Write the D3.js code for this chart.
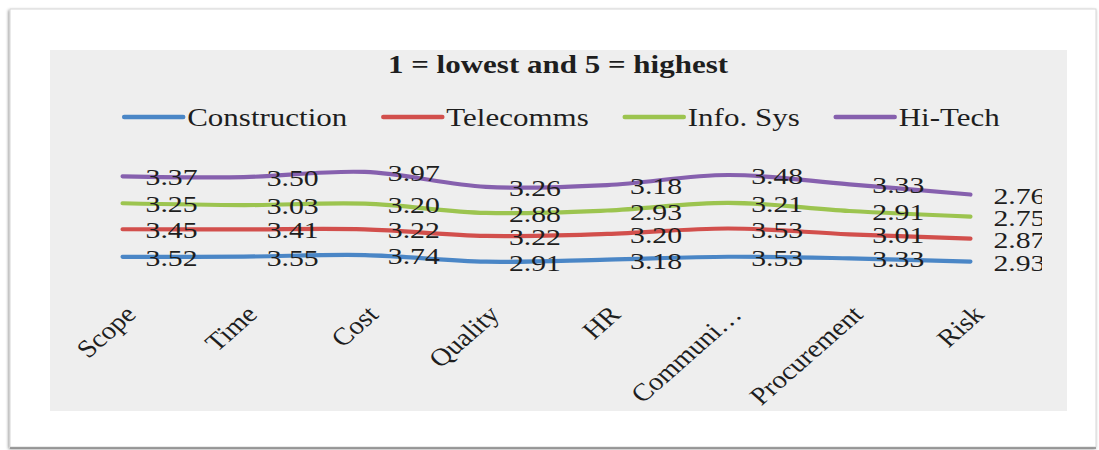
<!DOCTYPE html>
<html>
<head>
<meta charset="utf-8">
<script src="https://cdn.jsdelivr.net/npm/d3@7"></script>
<style>
  html, body { margin: 0; padding: 0; background: #ffffff; }
  svg { display: block; }
  text { font-family: "Liberation Serif", "Times New Roman", serif; fill: #1e1e1e; }
</style>
</head>
<body>
<script>
// Ratings per knowledge area (1 = lowest, 5 = highest), plotted as stacked lines
const categories = ["Scope", "Time", "Cost", "Quality", "HR", "Communi\u2026", "Procurement", "Risk"];
const seriesNames = ["Construction", "Telecomms", "Info. Sys", "Hi-Tech"];
const construction = [3.52, 3.55, 3.74, 2.91, 3.18, 3.53, 3.33, 2.93];
const telecomms    = [3.45, 3.41, 3.22, 3.22, 3.20, 3.53, 3.01, 2.87];
const infoSys      = [3.25, 3.03, 3.20, 2.88, 2.93, 3.21, 2.91, 2.75];
const hiTech       = [3.37, 3.50, 3.97, 3.26, 3.18, 3.48, 3.33, 2.76];
const seriesColors = ["#4a86c6", "#d24f4c", "#9cc44f", "#8660ae"];
const titleText = "1 = lowest and 5 = highest";

const W = 1099, H = 450;
const SX = 1.24; // horizontal stretch of the serif lettering

const svg = d3.select("body").append("svg").attr("width", W).attr("height", H);
const defs = svg.append("defs");

const shadow = defs.append("filter").attr("id", "pageShadow")
  .attr("x", "-5%").attr("y", "-5%").attr("width", "110%").attr("height", "110%");
shadow.append("feDropShadow").attr("dx", -1).attr("dy", 1.5)
  .attr("stdDeviation", 1.6).attr("flood-color", "#000").attr("flood-opacity", 0.45);

const axisShadow = defs.append("filter").attr("id", "axisShadow")
  .attr("x", "-2%").attr("y", "-200%").attr("width", "104%").attr("height", "500%");
axisShadow.append("feDropShadow").attr("dx", 0).attr("dy", 1.2)
  .attr("stdDeviation", 0.8).attr("flood-color", "#000").attr("flood-opacity", 0.3);

// page frame
svg.append("rect").attr("x", 10).attr("y", 9).attr("width", 1086).attr("height", 438)
  .attr("fill", "#ffffff").attr("stroke", "#d6d6d6").attr("stroke-width", 1)
  .attr("filter", "url(#pageShadow)");
svg.append("line").attr("x1", 10).attr("x2", 1096).attr("y1", 448).attr("y2", 448)
  .attr("stroke", "#8a8a8a").attr("stroke-width", 1.6);

// chart area
const area = { x: 50, y: 50, w: 1017, h: 361 };
svg.append("rect").attr("x", area.x).attr("y", area.y).attr("width", area.w).attr("height", area.h)
  .attr("fill", "#eeeeee");

// the plot region ends a little before the chart area's right edge
defs.append("clipPath").attr("id", "plotClip").append("rect")
  .attr("x", area.x).attr("y", area.y).attr("width", 1042 - area.x).attr("height", area.h);

const g = svg.append("g").attr("clip-path", "url(#plotClip)");

// scales
const axisY = 285;
const x = d3.scaleBand().domain(categories).range([62, 1031]).padding(0);
const y = d3.scaleLinear().domain([0, 15]).range([axisY, axisY - 120]);
const cx = c => x(c) + x.bandwidth() / 2;

// stacked cumulative values
const raw = [construction, telecomms, infoSys, hiTech];
const rows = categories.map((c, i) => {
  const r = { cat: c };
  seriesNames.forEach((s, k) => { r[s] = raw[k][i]; });
  return r;
});
const stacked = d3.stack().keys(seriesNames)(rows);

// title
svg.append("text").attr("transform", `translate(558,73) scale(${SX},1)`)
  .attr("text-anchor", "middle").attr("font-size", 25).attr("font-weight", "bold")
  .text(titleText);

// legend
const legend = svg.append("g");
let lx = 0;
seriesNames.forEach((s, k) => {
  const it = legend.append("g").attr("transform", `translate(${lx},0)`);
  it.append("line").attr("x1", 0).attr("x2", 59).attr("y1", 117).attr("y2", 117)
    .attr("stroke", seriesColors[k]).attr("stroke-width", 4.5).attr("stroke-linecap", "round");
  const t = it.append("text").attr("transform", `translate(63,126) scale(${SX},1)`)
    .attr("font-size", 25).text(s);
  const tw = t.node().getComputedTextLength() * SX;
  lx += 63 + tw + 36;
});
const legendW = lx - 36;
legend.attr("transform", `translate(${562 - legendW / 2},0)`);

// x axis
const xAxis = d3.axisBottom(x).tickSize(0).tickSizeOuter(0);
const ax = svg.append("g").attr("transform", `translate(0,${axisY})`).call(xAxis);
ax.select(".domain").attr("stroke", "#8e8e8e").attr("stroke-width", 1.6)
  .attr("filter", "url(#axisShadow)");
ax.selectAll(".tick text")
  .attr("x", null).attr("y", null).attr("dy", null)
  .attr("text-anchor", "end")
  .attr("font-family", "Liberation Serif, Times New Roman, serif")
  .attr("font-size", 25).attr("fill", "#1e1e1e")
  .attr("transform", `translate(15,31) scale(${SX * 0.92},1) rotate(-45)`);

// lines
const line = d3.line()
  .x(d => cx(d.data.cat))
  .y(d => y(d[1]))
  .curve(d3.curveCatmullRom.alpha(0.5));

g.selectAll("path.series").data(stacked).join("path")
  .attr("class", "series")
  .attr("d", d => line(d))
  .attr("fill", "none")
  .attr("stroke", (d, i) => seriesColors[i])
  .attr("stroke-width", 4.2)
  .attr("stroke-linecap", "round")
  .attr("stroke-linejoin", "round");

// value labels, placed to the right of each point
stacked.forEach((layer, k) => {
  layer.forEach((d, i) => {
    g.append("text")
      .attr("transform", `translate(${cx(d.data.cat) + 23},${y(d[1]) + 9}) scale(${SX},1)`)
      .attr("font-size", 24)
      .text(raw[k][i].toFixed(2));
  });
});
</script>
</body>
</html>
